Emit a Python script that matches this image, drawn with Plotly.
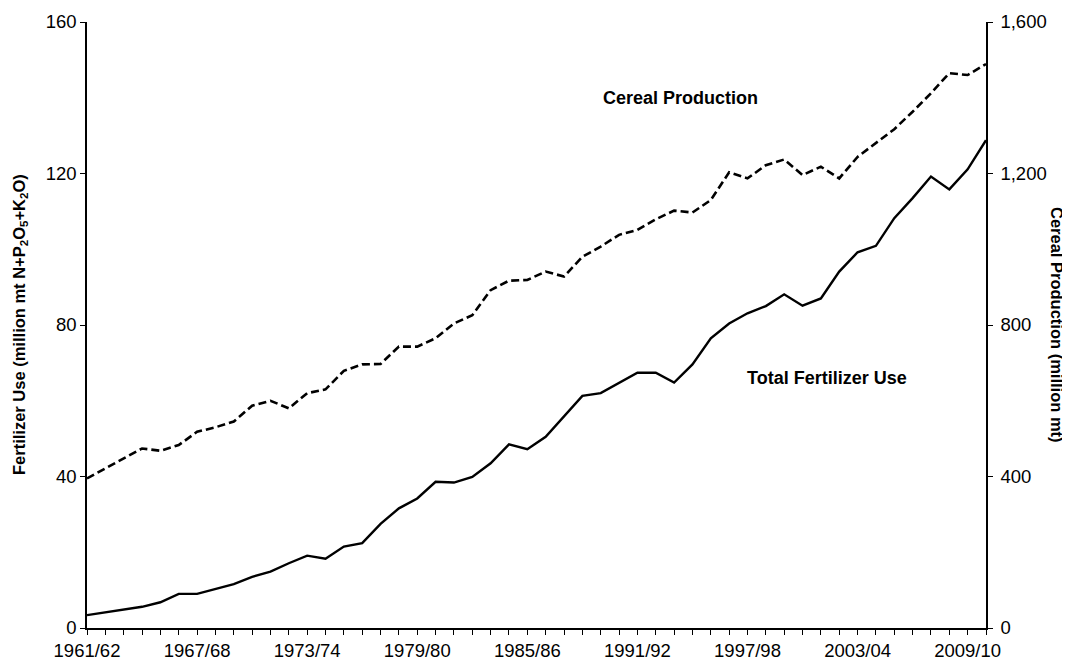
import plotly.graph_objects as go

seasons = [f"{y}/{str(y + 1)[-2:]}" for y in range(1961, 2011)]

fertilizer_use = [3.4, 4.1, 4.75, 5.6, 6.8, 9.0, 9.0, 10.2, 11.6, 13.5,
                  14.9, 17.1, 19.1, 18.3, 21.5, 22.4, 27.5, 31.6, 34.2, 38.6,
                  38.4, 39.9, 43.5, 48.5, 47.2, 50.5, 55.8, 61.3, 62.0, 64.6,
                  67.4, 67.4, 64.8, 69.6, 76.5, 80.4, 83.1, 85.0, 88.1, 85.1,
                  87.0, 94.1, 99.2, 100.9, 108.2, 113.5, 119.2, 115.8, 121.1, 128.8]

cereal_production = [395, 422, 448, 474, 468, 483, 518, 530, 545, 587,
                     600, 580, 620, 630, 679, 696, 697, 743, 743, 765,
                     804, 826, 892, 917, 919, 941, 928, 980, 1007, 1038,
                     1051, 1079, 1102, 1097, 1130, 1203, 1187, 1222, 1237, 1196,
                     1218, 1187, 1244, 1280, 1317, 1363, 1412, 1465, 1460, 1489]

left_ticks = [0, 40, 80, 120, 160]
right_ticks = [0, 400, 800, 1200, 1600]
label_every = 6

FONT = "Liberation Sans, Arial, sans-serif"
TICK = 18.5

fig = go.Figure()
fig.add_trace(go.Scatter(
    x=seasons, y=cereal_production, yaxis="y2", mode="lines",
    line=dict(color="black", width=2.6, dash="8px,4px"),
    name="Cereal Production", showlegend=False))
fig.add_trace(go.Scatter(
    x=seasons, y=fertilizer_use, yaxis="y", mode="lines",
    line=dict(color="black", width=2.4),
    name="Total Fertilizer Use", showlegend=False))

ticktext = [s if i % label_every == 0 else "" for i, s in enumerate(seasons)]

axis_common = dict(
    ticks="outside", ticklen=5, tickwidth=1.3, tickcolor="black",
    showline=True, linecolor="black", linewidth=1.5,
    showgrid=False, zeroline=False, automargin=False,
    tickfont=dict(size=TICK),
)

# page body has an 8px margin, so the figure is 8px smaller and offset
fig.update_layout(
    width=1062, height=650,
    margin=dict(l=79, r=84, t=14, b=30),
    paper_bgcolor="white", plot_bgcolor="white",
    font=dict(family=FONT, size=TICK, color="black"),
    xaxis=dict(
        type="category", range=[0, len(seasons) - 1],
        tickmode="array", tickvals=seasons, ticktext=ticktext, tickangle=0,
        **axis_common,
    ),
    yaxis=dict(range=[0, 160], tickvals=left_ticks, **axis_common),
    yaxis2=dict(
        range=[0, 1600], tickvals=right_ticks, tickformat=",",
        overlaying="y", side="right", ticklabelstandoff=4, **axis_common,
    ),
    annotations=[
        dict(text="<b>Cereal Production</b>", xref="paper", yref="paper",
             x=0.66, y=0.875, xanchor="center", yanchor="middle",
             showarrow=False, font=dict(size=18)),
        dict(text="<b>Total Fertilizer Use</b>", xref="paper", yref="paper",
             x=0.823, y=0.412, xanchor="center", yanchor="middle",
             showarrow=False, font=dict(size=18)),
        dict(text="<b>Fertilizer Use (million mt N+P<sub>2</sub>O<sub>5</sub>+K<sub>2</sub>O)</b>",
             xref="paper", yref="paper", x=0, y=0.5, xanchor="center", yanchor="middle",
             xshift=-67, textangle=-90, showarrow=False, font=dict(size=16.5)),
        dict(text="<b>Cereal Production (million mt)</b>",
             xref="paper", yref="paper", x=1, y=0.5, xanchor="center", yanchor="middle",
             xshift=71, textangle=90, showarrow=False, font=dict(size=16.5)),
    ],
)

fig.write_html("out.html")
